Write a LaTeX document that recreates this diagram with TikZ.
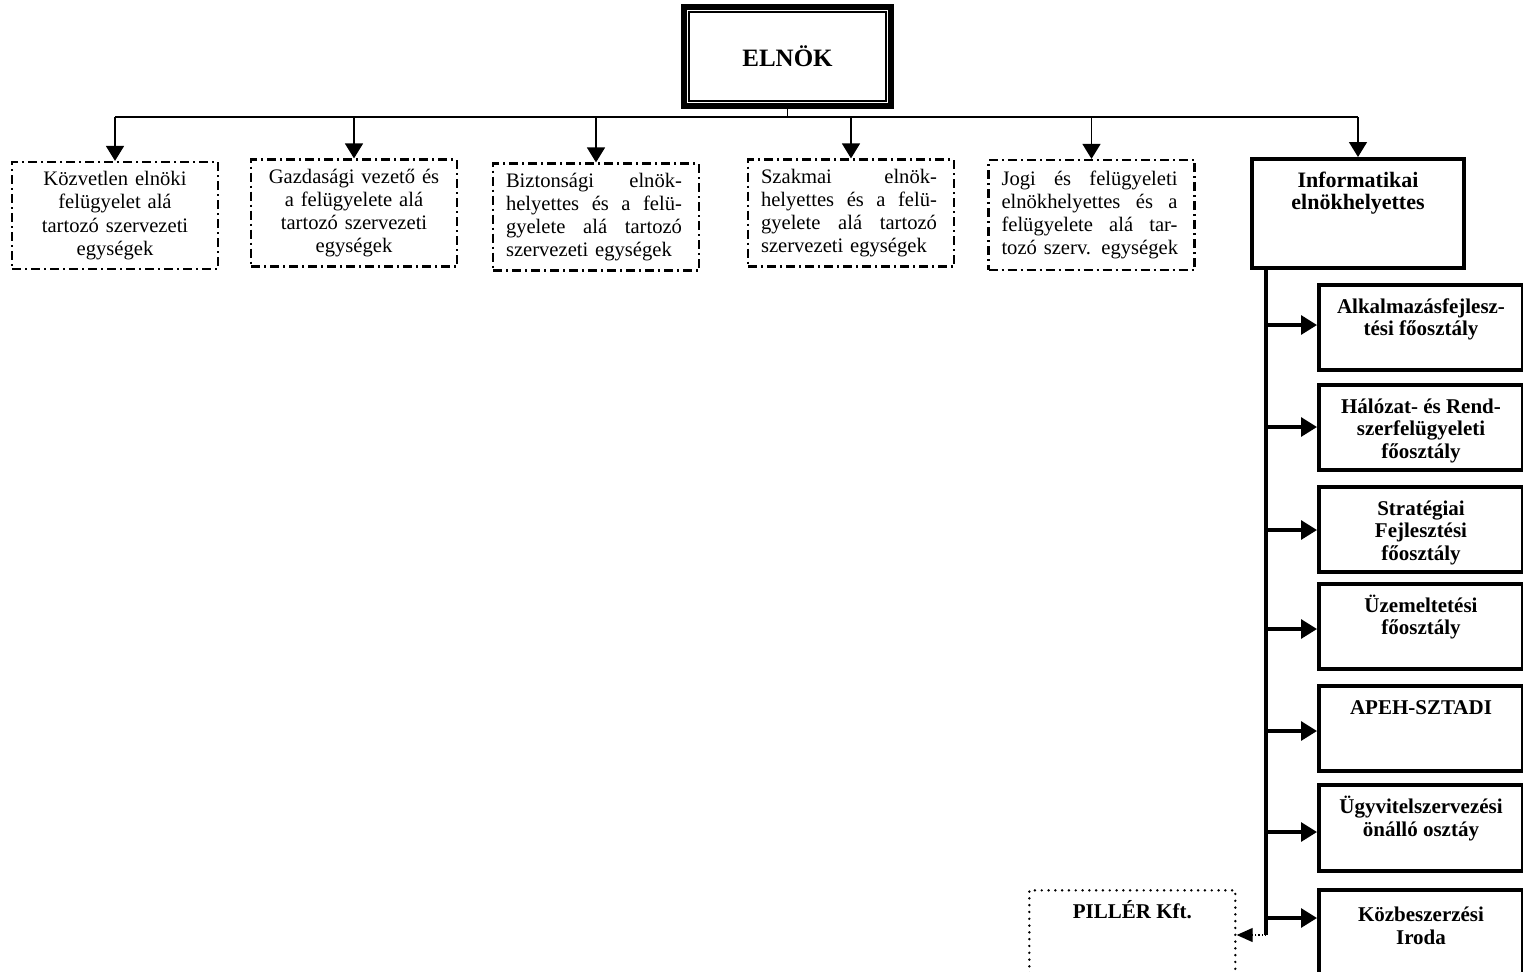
\documentclass[tikz,border=0pt]{standalone}
\usepackage{fontspec}
\setmainfont{Liberation Serif}
\usetikzlibrary{arrows.meta, calc, positioning}

\newcommand{\jl}[1]{\makebox[88pt][s]{\spaceskip=0pt\xspaceskip=0pt\relax #1}}
\newcommand{\toptext}[3]{\parbox[c][#1][t]{#2}{\centering\rule{0pt}{10pt}#3}}

\begin{document}
\begin{tikzpicture}[x=0.5pt, y=-0.5pt]%{{{
        \useasboundingbox (0, 0) rectangle (1523, 971);

        \tikzstyle{boss} = [draw, line width=2.8pt, outer sep=0pt, minimum width=103.5pt,
            minimum height=49.5pt, font=\fontsize{12.5}{14}\selectfont\bfseries];
        \node [boss] (elnok) at (787.5, 56.5) {\raisebox{-1.2pt}{ELNÖK}};
        \draw [line width=0.9pt] ($(elnok.north west) + (5, 5)$) rectangle ($(elnok.south east) + (-5, -5)$);

        \tikzstyle{unit} = [draw, line width=1.1pt, dash pattern=on 4.5pt off 2pt on 1pt off 2pt,
            minimum width=103pt, minimum height=53.5pt, inner sep=0pt, font=\fontsize{10.3}{11.6}\selectfont];
        \node [unit, align=center, text width=100pt] (k1) at (115, 215.5)
            {Közvetlen elnöki\\felügyelet alá\\tartozó szervezeti\\egységek};
        \node [unit, align=center, text width=100pt] (k2) at (354, 213)
            {Gazdasági vezető és\\a felügyelete alá\\tartozó szervezeti\\egységek};
        \node [unit, align=left, text width=90pt] (k3) at (596, 217)
            {\jl{Biztonsági elnök-}\\\jl{helyettes és a felü-}\\\jl{gyelete alá tartozó}\\\mbox{szervezeti egységek}};
        \node [unit, align=left, text width=90pt] (k4) at (851, 213)
            {\jl{Szakmai elnök-}\\\jl{helyettes és a felü-}\\\jl{gyelete alá tartozó}\\\mbox{szervezeti egységek}};
        \node [unit, align=left, text width=90pt, minimum height=55pt] (k5) at (1091.5, 215)
            {\jl{Jogi és felügyeleti}\\\jl{elnökhelyettes és a}\\\jl{felügyelete alá tar-}\\\mbox{tozó szerv. egységek}};

        \tikzstyle{dep} = [draw, line width=2pt, inner sep=4pt, font=\fontsize{10.5}{11.3}\selectfont\bfseries];
        \node [dep] (info) at (1358, 213.5)
            {\toptext{46.5pt}{98pt}{{\fontsize{11}{11.5}\selectfont Informatikai\\elnökhelyettes}}};

        % bus from the top box
        \tikzstyle{bus} = [line width=0.75pt];
        \coordinate (bus) at (788, 117);
        \draw [bus] (elnok.south) -- (elnok.south |- bus);
        \draw [bus] (k1.north |- bus) -- (info.north |- bus);
        \foreach \nm in {k1, k2, k3, k4, k5, info}{
            \draw [bus, -{Triangle[length=7.5pt, width=9pt]}] (\nm.north |- bus) -- (\nm.north);
        }

        % informatics branch
        \coordinate (spine) at ($(info.south west) + (16, 0)$);
        \coordinate (spinebot) at ($(spine) + (0, 665)$);
        \draw [line width=1.6pt] (spine) -- (spinebot);

        \foreach \nm/\yt/\hh/\dy/\txt in {
                alk/283/42.5pt/42/{Alkalmazásfejlesz-\\tési főosztály},
                hal/383/42.5pt/44/{Hálózat- és Rend-\\szerfelügyeleti\\főosztály},
                str/485/42.5pt/45/{Stratégiai\\Fejlesztési\\főosztály},
                uzem/582/42.5pt/47/{Üzemeltetési\\főosztály},
                apeh/684/42.5pt/47/{APEH-SZTADI},
                ugyv/783/43pt/49/{Ügyvitelszervezési\\önálló osztáy},
                kozb/888/46pt/30/{Közbeszerzési\\Iroda}}{
            \node [dep, anchor=north west, minimum height=\hh] (\nm) at (1317, \yt)
                {\toptext{34.5pt}{94pt}{\txt}};
            \draw [line width=1.6pt, -{Triangle[length=8pt, width=9.5pt]}]
                (spine |- {$(\nm.north west) + (0, \dy)$}) -- ($(\nm.north west) + (0, \dy)$);
        }

        \tikzstyle{firm} = [draw, line width=1.35pt, dash pattern=on 0pt off 3.4pt, line cap=round,
            inner sep=4pt, font=\fontsize{10.5}{11.3}\selectfont\bfseries];
        \node [firm, anchor=north west] (piller) at (1028, 889) {\toptext{37pt}{95pt}{PILLÉR Kft.}};
        \draw [line width=0.6pt, densely dotted, -{Triangle[length=8pt, width=7pt]}]
            (spinebot) -- (spinebot -| piller.east);
    \end{tikzpicture}
\end{document}
